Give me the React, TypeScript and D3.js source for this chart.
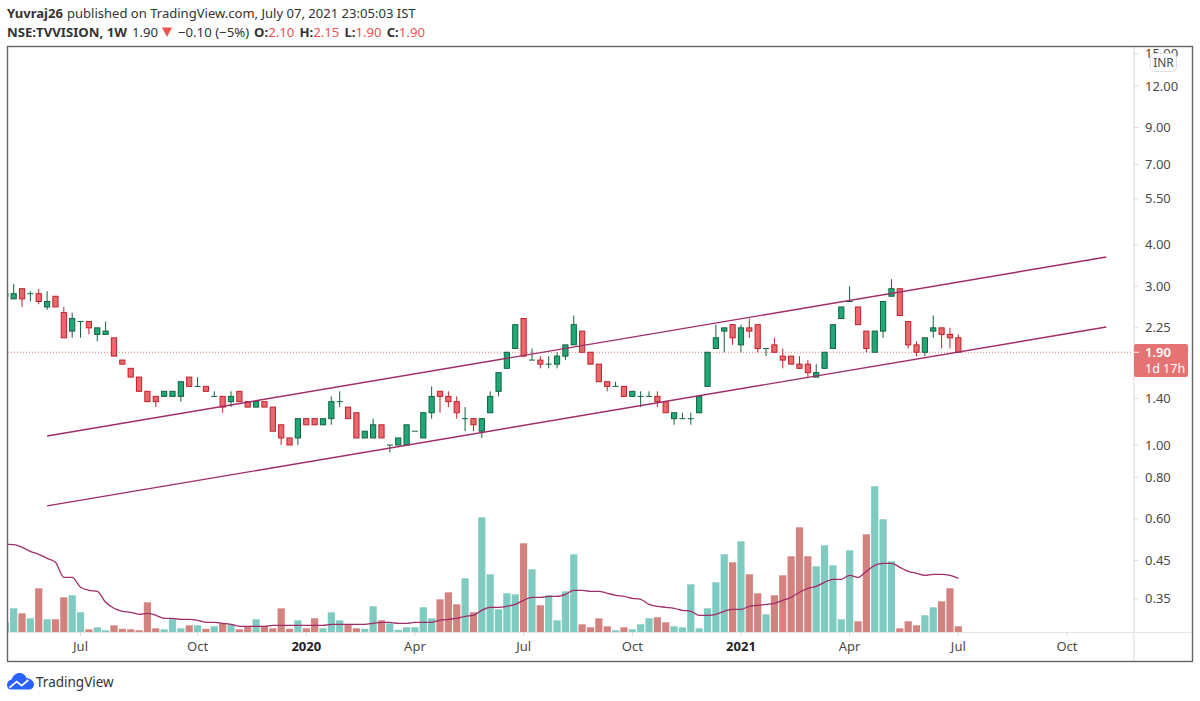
import React from 'react';
import * as d3 from 'd3';

// weekly candles, first entry is the bar cut off by the left edge
const opens = [2.8,
  2.75, 2.95, 2.85, 2.85, 2.6, 2.8, 2.5, 2.2, 2.35, 2.35,
  2.15, 2.15, 2.1, 1.8, 1.7, 1.6, 1.45, 1.4, 1.4, 1.4,
  1.4, 1.6, 1.5, 1.5, 1.4, 1.4, 1.35, 1.45, 1.35, 1.3,
  1.35, 1.3, 1.15, 1.05, 1.05, 1.2, 1.2, 1.15, 1.2, 1.35,
  1.3, 1.25, 1.05, 1.05, 1.15, 1.0, 1.0, 1.0, 1.1, 1.05,
  1.25, 1.45, 1.4, 1.35, 1.2, 1.2, 1.1, 1.25, 1.45, 1.7,
  1.95, 2.4, 1.8, 1.8, 1.75, 1.75, 1.85, 2.0, 2.2, 1.9,
  1.75, 1.55, 1.5, 1.5, 1.4, 1.4, 1.4, 1.4, 1.35, 1.2,
  1.2, 1.2, 1.25, 1.5, 1.95, 2.2, 2.3, 2.0, 2.25, 2.3,
  1.95, 2.0, 1.85, 1.85, 1.75, 1.75, 1.6, 1.7, 1.95, 2.4,
  2.7, 2.6, 2.2, 1.9, 2.2, 2.8, 2.95, 2.35, 2.0, 1.9,
  2.2, 2.25, 2.15, 2.1];
const closes = [2.85,
  2.85, 2.75, 2.85, 2.7, 2.7, 2.6, 2.1, 2.4, 2.35, 2.25,
  2.25, 2.2, 1.85, 1.75, 1.6, 1.45, 1.35, 1.35, 1.45, 1.45,
  1.55, 1.5, 1.5, 1.45, 1.4, 1.3, 1.4, 1.35, 1.3, 1.35,
  1.3, 1.1, 1.05, 1.0, 1.2, 1.15, 1.15, 1.2, 1.35, 1.35,
  1.2, 1.05, 1.1, 1.15, 1.05, 1.0, 1.05, 1.15, 1.1, 1.25,
  1.4, 1.4, 1.35, 1.25, 1.2, 1.15, 1.2, 1.4, 1.65, 1.9,
  2.3, 1.85, 1.8, 1.75, 1.75, 1.85, 2.0, 2.3, 1.9, 1.75,
  1.55, 1.5, 1.5, 1.4, 1.45, 1.4, 1.4, 1.35, 1.25, 1.25,
  1.2, 1.2, 1.4, 1.9, 2.1, 2.25, 2.1, 2.25, 2.2, 1.95,
  1.95, 1.9, 1.8, 1.75, 1.7, 1.65, 1.65, 1.9, 2.3, 2.6,
  2.7, 2.3, 1.95, 2.2, 2.7, 2.95, 2.45, 2.0, 1.9, 2.1,
  2.25, 2.15, 2.1, 1.9];
const highs = [2.9,
  3.05, 2.95, 2.9, 2.95, 2.9, 2.8, 2.6, 2.5, 2.35, 2.35,
  2.25, 2.35, 2.1, 1.8, 1.7, 1.6, 1.45, 1.4, 1.45, 1.45,
  1.55, 1.6, 1.6, 1.5, 1.45, 1.4, 1.45, 1.45, 1.35, 1.35,
  1.35, 1.3, 1.15, 1.05, 1.2, 1.2, 1.2, 1.2, 1.4, 1.45,
  1.3, 1.25, 1.1, 1.2, 1.15, 1.0, 1.05, 1.15, 1.1, 1.25,
  1.5, 1.45, 1.45, 1.4, 1.3, 1.2, 1.2, 1.45, 1.65, 1.9,
  2.3, 2.4, 1.95, 1.85, 1.85, 1.9, 2.0, 2.45, 2.2, 1.9,
  1.75, 1.55, 1.55, 1.5, 1.45, 1.45, 1.45, 1.45, 1.35, 1.25,
  1.25, 1.25, 1.4, 1.9, 2.3, 2.25, 2.3, 2.3, 2.4, 2.3,
  1.95, 2.1, 1.95, 1.85, 1.85, 1.8, 1.75, 1.9, 2.3, 2.6,
  3.0, 2.6, 2.2, 2.2, 2.7, 3.15, 2.95, 2.35, 2.05, 2.1,
  2.45, 2.25, 2.25, 2.15];
const lows = [2.75,
  2.75, 2.6, 2.7, 2.65, 2.55, 2.6, 2.1, 2.1, 2.1, 2.15,
  2.05, 2.15, 1.85, 1.75, 1.6, 1.45, 1.35, 1.3, 1.4, 1.4,
  1.35, 1.5, 1.5, 1.45, 1.4, 1.25, 1.3, 1.35, 1.3, 1.3,
  1.3, 1.1, 1.0, 1.0, 1.0, 1.15, 1.15, 1.15, 1.15, 1.3,
  1.2, 1.05, 1.05, 1.05, 1.05, 0.95, 1.0, 1.0, 1.1, 1.05,
  1.2, 1.25, 1.3, 1.2, 1.1, 1.1, 1.05, 1.25, 1.4, 1.7,
  1.95, 1.85, 1.8, 1.7, 1.7, 1.7, 1.8, 2.0, 1.9, 1.75,
  1.55, 1.45, 1.5, 1.4, 1.4, 1.3, 1.4, 1.3, 1.25, 1.15,
  1.2, 1.15, 1.25, 1.5, 1.95, 1.9, 2.0, 1.9, 2.1, 1.9,
  1.85, 1.9, 1.7, 1.75, 1.7, 1.6, 1.6, 1.7, 1.95, 2.4,
  2.7, 2.3, 1.9, 1.9, 2.1, 2.8, 2.45, 1.95, 1.85, 1.85,
  2.1, 1.95, 1.95, 1.9];
const volumes = [10,
  24, 19, 14, 44, 13, 13, 35, 37, 20, 3,
  5, 2, 7, 3.5, 3, 2, 30, 4, 3, 14,
  4, 7, 7, 3.5, 6, 9, 8, 3, 6, 13,
  6, 4, 24, 3.5, 12, 4, 14, 4, 20, 12,
  8, 4, 3.5, 26, 12, 9, 2.5, 5, 5, 25,
  14, 33, 40, 28, 54, 20, 115, 58, 23, 39,
  38, 89, 63, 27, 37, 12, 41, 78, 8, 5,
  14, 6, 2, 5, 3, 8, 14, 15, 10, 6,
  5, 48, 4, 24, 50, 78, 70, 91, 58, 39,
  18, 37, 57, 76, 105, 76, 66, 87, 67, 13,
  82, 11, 98, 146, 113, 71, 4, 11, 7, 17,
  25, 31, 44, 6];
const volumeMa = [88,
  87.7, 85, 81, 78, 74, 70, 55, 55, 45, 42,
  41, 30, 24, 21, 20, 18, 19, 17, 14, 14,
  13, 13, 12, 10, 10, 9, 8, 6, 6, 6,
  6, 7, 7, 7, 7, 7, 7, 7, 8, 8,
  8, 8, 8, 9, 10, 10, 9, 9, 10, 10,
  10, 12, 13, 14, 16, 17, 22, 25, 25, 26,
  28, 32, 35, 35, 36, 36, 38, 42, 42, 41,
  41, 39, 37, 36, 34, 33, 28, 26, 25, 24,
  22, 21, 17, 17, 18, 21, 23, 23, 26, 27,
  28, 29, 32, 35, 40, 44, 46, 50, 53, 53,
  57, 55, 61, 67, 69, 69, 65, 61, 59, 57,
  58, 58, 57, 54];

// the scale rounds its labels to the 0.05 price step, so 1.38 reads as 1.40
const priceTicks = [15, 12, 9, 6.97, 5.5, 4, 3, 2.25, 1.38, 1, 0.8, 0.6, 0.45, 0.345];
const priceTickLabels = ['15.00', '12.00', '9.00', '7.00', '5.50', '4.00', '3.00', '2.25', '1.40', '1.00', '0.80', '0.60', '0.45', '0.35'];
const timeTicks = [9, 23, 36, 49, 62, 75, 88, 101, 114, 127];
const timeTickLabels = ['Jul', 'Oct', '2020', 'Apr', 'Jul', 'Oct', '2021', 'Apr', 'Jul', 'Oct'];

// channel drawn on the chart: [week, price] at each end
const upperChannel: [number, number][] = [[5, 1.064], [131.7, 3.673]];
const lowerChannel: [number, number][] = [[5, 0.656], [131.7, 2.263]];
const lastPrice = 1.9;

const FONT = '"Noto Sans", "Open Sans", sans-serif';
const GREEN = '#22a878';
const GREEN_EDGE = '#10643f';
const RED = '#e66a6e';
const RED_EDGE = '#c5202a';
const TEAL = '#7fcbc1';
const ROSE = '#d3837f';
const PURPLE = '#a02c68';
const TEXT = '#4a4a4a';

const frame = { left: 8, right: 1192, top: 47, bottom: 661, axisX: 1134, axisY: 632 };

export default function App() {
  const x = d3.scaleLinear().domain([0, 127]).range([5.3, 1067]);
  const y = d3.scaleLog().domain([1, 12]).range([445, 86]);
  const vol = d3.scaleLinear().domain([0, 146]).range([632.3, 486.3]);

  const maLine = d3.line<number>()
    .x((_, i) => x(i))
    .y(d => vol(d))
    .curve(d3.curveMonotoneX);
  const channelLine = d3.line<[number, number]>()
    .x(d => x(d[0]))
    .y(d => y(d[1]));

  const lastY = y(lastPrice);

  return (
    <svg
      width={1200}
      height={701}
      style={{ position: 'absolute', left: 0, top: 0, background: '#fff' }}
      fontFamily={FONT}
    >
      <defs>
        <clipPath id="plot">
          <rect x={frame.left} y={frame.top} width={frame.axisX - frame.left} height={frame.bottom - frame.top} />
        </clipPath>
        <clipPath id="scale">
          <rect x={frame.axisX} y={frame.top} width={frame.right - frame.axisX} height={frame.bottom - frame.top} />
        </clipPath>
      </defs>

      {/* header */}
      <text x={7} y={18} fontSize={13.05} fill="#333">
        <tspan fontWeight="bold">Yuvraj26</tspan>
        <tspan dx={4}>published on TradingView.com, July 07, 2021 23:05:03 IST</tspan>
      </text>
      <text x={7} y={37} fontSize={13.2} fill="#333">
        <tspan fontWeight="bold">NSE:TVVISION, 1W</tspan>
        <tspan dx={5}>1.90</tspan>
      </text>
      <path d="M162 27.5 L172 27.5 L167 37 Z" fill="#ef5350" />
      <text x={178} y={37} fontSize={13.2} fill="#333">
        −0.10 (−5%)
        <tspan dx={5} fontWeight="bold">O:</tspan><tspan fill="#ef5350">2.10</tspan>
        <tspan dx={5} fontWeight="bold">H:</tspan><tspan fill="#ef5350">2.15</tspan>
        <tspan dx={5} fontWeight="bold">L:</tspan><tspan fill="#ef5350">1.90</tspan>
        <tspan dx={5} fontWeight="bold">C:</tspan><tspan fill="#ef5350">1.90</tspan>
      </text>

      {/* volume */}
      <g clipPath="url(#plot)">
        {volumes.map((v, i) => (
          <rect
            key={i}
            x={x(i) - 3.6}
            y={vol(v)}
            width={7.2}
            height={vol(0) - vol(v)}
            fill={closes[i] >= opens[i] ? TEAL : ROSE}
          />
        ))}
        <path d={maLine(volumeMa) || ''} fill="none" stroke={PURPLE} strokeWidth={1.3} />
      </g>

      {/* last price line */}
      <line
        x1={frame.left}
        x2={frame.axisX}
        y1={lastY}
        y2={lastY}
        stroke="#ef5350"
        strokeWidth={1}
        strokeDasharray="1 2"
        opacity={0.8}
      />

      {/* candles */}
      <g clipPath="url(#plot)">
        {opens.map((o, i) => {
          const c = closes[i];
          const up = c >= o;
          const edge = up ? GREEN_EDGE : RED_EDGE;
          const top = y(Math.max(o, c));
          const bottom = y(Math.min(o, c));
          return (
            <g key={i}>
              <line x1={x(i)} x2={x(i)} y1={y(highs[i])} y2={y(lows[i])} stroke={edge} strokeWidth={1} />
              {top === bottom ? (
                <line x1={x(i) - 3} x2={x(i) + 3} y1={top} y2={top} stroke={edge} strokeWidth={1} />
              ) : (
                <rect
                  x={x(i) - 2.6}
                  y={top}
                  width={5.2}
                  height={bottom - top}
                  fill={up ? GREEN : RED}
                  stroke={edge}
                  strokeWidth={1}
                />
              )}
            </g>
          );
        })}
      </g>

      {/* channel */}
      <g clipPath="url(#plot)" fill="none" stroke={PURPLE} strokeWidth={1.4}>
        <path d={channelLine(upperChannel) || ''} />
        <path d={channelLine(lowerChannel) || ''} />
      </g>

      {/* axes */}
      <line x1={frame.axisX} x2={frame.axisX} y1={frame.top} y2={frame.bottom} stroke="#e6e6e6" strokeWidth={1.5} />
      <line x1={frame.left} x2={frame.right} y1={frame.axisY + 0.5} y2={frame.axisY + 0.5} stroke="#e6e6e6" strokeWidth={1} />
      <g clipPath="url(#scale)">
        {priceTicks.map((p, i) => (
          <g key={p}>
            <line x1={frame.axisX} x2={frame.axisX + 4} y1={y(p)} y2={y(p)} stroke="#d8d8d8" />
            <text x={1145} y={y(p)} dy="0.35em" fontSize={13} fill={TEXT}>{priceTickLabels[i]}</text>
          </g>
        ))}
      </g>
      {timeTicks.map((t, i) => (
        <g key={t}>
          <line x1={x(t)} x2={x(t)} y1={frame.axisY} y2={frame.axisY + 4} stroke="#d8d8d8" />
          <text
            x={x(t)}
            y={651}
            textAnchor="middle"
            fontSize={13}
            fill={timeTickLabels[i].startsWith('20') ? '#222' : TEXT}
            fontWeight={timeTickLabels[i].startsWith('20') ? 'bold' : 'normal'}
          >
            {timeTickLabels[i]}
          </text>
        </g>
      ))}

      <rect x={1150.5} y={53.5} width={26} height={18} rx={4} fill="#fff" stroke="#e0e0e0" />
      <text x={1163.5} y={67} textAnchor="middle" fontSize={12} fill={TEXT}>INR</text>

      {/* last price label */}
      <rect x={1134} y={344} width={54} height={33} rx={2} fill="#e57373" />
      <line x1={1134} x2={1139} y1={lastY} y2={lastY} stroke="#fff" />
      <text x={1145} y={357} fontSize={13} fontWeight="600" fill="#fff">1.90</text>
      <text x={1145} y={373} fontSize={12.5} fill="#fff">1d 17h</text>

      {/* frame */}
      <rect
        x={frame.left - 0.5}
        y={frame.top - 0.5}
        width={frame.right - frame.left + 1}
        height={frame.bottom - frame.top + 1}
        fill="none"
        stroke="#666"
        strokeWidth={1.4}
      />

      {/* logo */}
      <path
        d="M7 685 C7 682 9 680 11.5 679.5 C13 675.5 16 673 19.5 673 C23 673 25.5 675 26.5 678 C30.5 678.5 34 681 34 684.5 C34 687.5 31.5 689.5 29 689.5 L11 689.5 C8.5 689.5 7 687.5 7 685 Z"
        fill="#2962ff"
      />
      <path d="M9.5 687.7 L16.7 681.7 L21.7 685.7 L28.3 680" fill="none" stroke="#fff" strokeWidth={1.7} />
      <text x={36} y={687} fontSize={13.5} fill="#333">TradingView</text>
    </svg>
  );
}
